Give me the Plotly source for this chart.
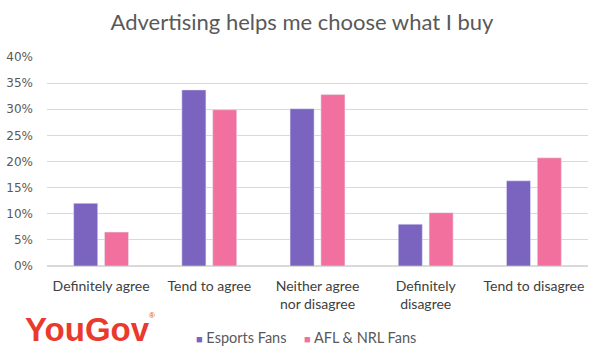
import plotly.graph_objects as go

categories = ["Definitely agree", "Tend to agree", "Neither agree<br>nor disagree", "Definitely<br>disagree", "Tend to disagree"]
series_names = ["Esports Fans", "AFL & NRL Fans"]
esports = [12.0, 33.7, 30.1, 8.0, 16.3]
afl_nrl = [6.5, 29.9, 32.8, 10.2, 20.7]
colors = ["#7b63c0", "#f2709e"]
y_ticks = [0, 5, 10, 15, 20, 25, 30, 35, 40]
y_labels = [f"{v}%" for v in y_ticks]

W, H = 604, 358
ML, MR, MT, MB = 47, 16, 57, 92
PW, PH = W - ML - MR, H - MT - MB


def px(x):
    return (x - ML) / PW


def py(y):
    return (H - MB - y) / PH


fig = go.Figure()
for name, vals, col in zip(series_names, [esports, afl_nrl], colors):
    fig.add_bar(x=categories, y=vals, name=name, marker_color=col, showlegend=False)

fig.update_layout(
    width=W, height=H,
    margin=dict(l=ML, r=MR, t=MT, b=MB),
    paper_bgcolor="white", plot_bgcolor="white",
    barmode="group", bargap=0.43, bargroupgap=0.22,
    title=dict(text="Advertising helps me choose what I buy", x=0.5, xanchor="center",
               y=0.938, yanchor="middle",
               font=dict(family="Lato, Open Sans, sans-serif", size=22, color="#595959")),
    font=dict(family="Lato, sans-serif", color="#595959"),
    showlegend=False,
)
fig.update_yaxes(range=[0, 40], tickvals=y_ticks, ticktext=y_labels, automargin=False,
                 gridcolor="#d9d9d9", zeroline=True, zerolinecolor="#d9d9d9",
                 tickfont=dict(family="DejaVu Sans, Verdana, sans-serif", size=12, color="#595959"),
                 ticks="", showline=False, ticklabelstandoff=13)
fig.update_xaxes(tickfont=dict(family="Lato, sans-serif", size=14, color="#404040"),
                 ticks="", showline=False, showgrid=False, automargin=False,
                 ticklabelstandoff=10)

# YouGov logo
fig.add_annotation(xref="paper", yref="paper", x=px(23), y=py(329), xanchor="left", yanchor="middle",
                   text="<b>YouGov</b>", showarrow=False,
                   font=dict(family="Liberation Sans, Arial, sans-serif", size=33, color="#ea3a2e"))
fig.add_annotation(xref="paper", yref="paper", x=px(147), y=py(315), xanchor="left", yanchor="middle",
                   text="®", showarrow=False,
                   font=dict(family="Liberation Sans, Arial, sans-serif", size=8, color="#ea3a2e"))

# legend drawn as text
legend_x = [194, 302]
for name, col, lx in zip(series_names, colors, legend_x):
    fig.add_annotation(xref="paper", yref="paper", x=px(lx), y=py(337),
                       xanchor="left", yanchor="middle", showarrow=False,
                       text=f"<span style='color:{col};font-size:11px'>■</span> {name}",
                       font=dict(family="Lato, sans-serif", size=14.5, color="#595959"))

fig.write_html("out.html", config={"displayModeBar": False},
               post_script="document.body.style.margin='0';")
